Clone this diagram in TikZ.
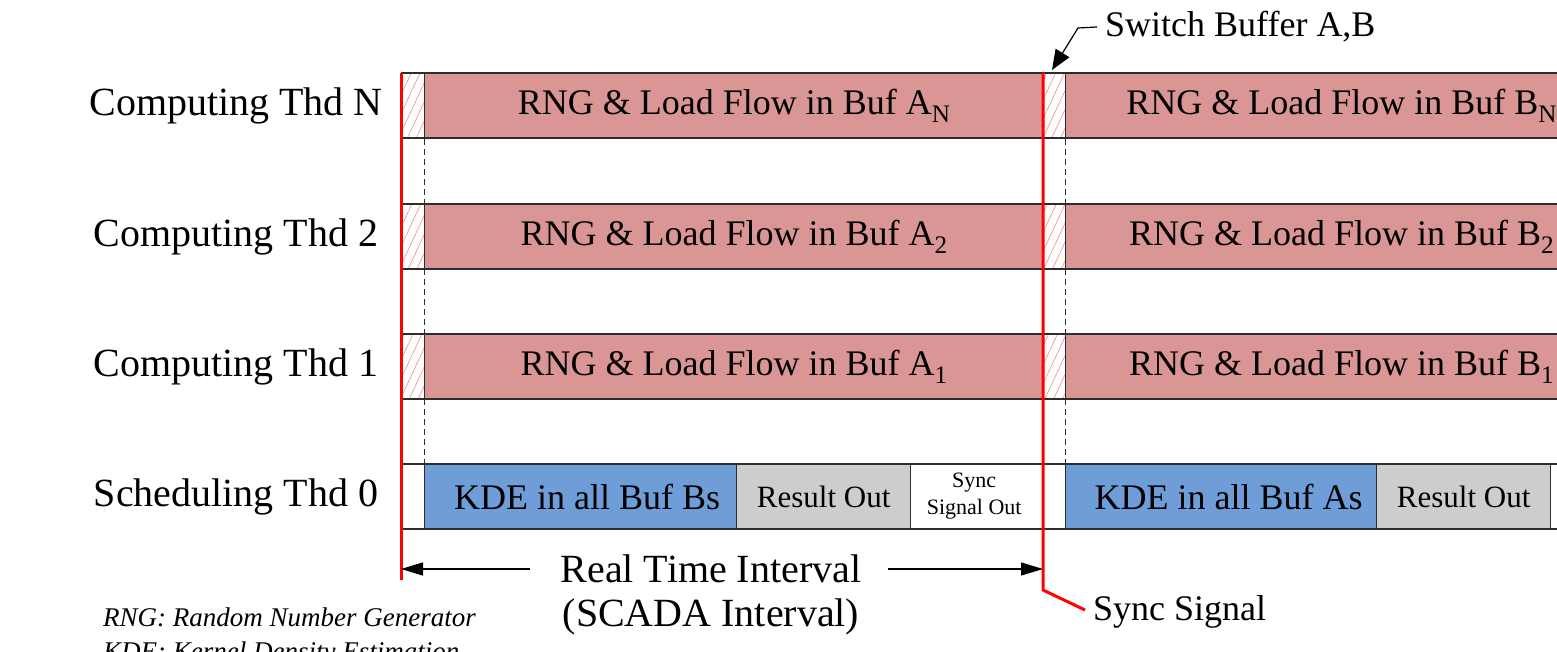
\documentclass[tikz,border=0pt]{standalone}
\usepackage{fontspec}
\setmainfont{Liberation Serif}
\usetikzlibrary{patterns.meta,arrows.meta}
\definecolor{rngfill}{RGB}{217,150,148}
\definecolor{kdefill}{RGB}{110,157,216}
\definecolor{outfill}{RGB}{205,205,205}
\definecolor{hatchred}{RGB}{238,150,150}
\definecolor{edge}{RGB}{45,45,45}
\begin{document}
\begin{tikzpicture}[x=1pt,y=-1pt,
  lane/.style={font=\fontsize{40}{44}\selectfont, inner sep=0pt},
  cell/.style={draw=edge, line width=1.3pt, minimum height=65pt, inner sep=0pt,
    anchor=west, font=\fontsize{36}{40}\selectfont},
  rng/.style={cell, fill=rngfill},
  kde/.style={cell, fill=kdefill},
  outbox/.style={cell, fill=outfill, font=\fontsize{31}{34}\selectfont},
  blank/.style={cell, fill=white},
  hatch/.style={cell, pattern={Lines[angle=65,distance=8pt,line width=0.7pt]},
    pattern color=hatchred},
  guide/.style={draw=edge, line width=0.8pt, dash pattern=on 6pt off 4pt},
  syncline/.style={draw=red, line width=3pt},
  dim/.style={draw=black, line width=1.2pt, -{Triangle[length=22pt,width=13pt]}},
  callout/.style={draw=black, line width=1.2pt, -{Triangle[length=20pt,width=16pt]}},
  label/.style={font=\fontsize{36}{40}\selectfont, inner sep=0pt},
  note/.style={font=\fontsize{27}{32}\selectfont\itshape, inner sep=0pt, anchor=base west}
]
\useasboundingbox (0,0) rectangle (1557,652);
\clip (0,0) rectangle (1557,652);

% thread labels
\node[lane] (lN) at (236,105.5) {Computing Thd N};
\node[lane] (l2) at (236,236.5) {Computing Thd 2};
\node[lane] (l1) at (236,366.5) {Computing Thd 1};
\node[lane] (l0) at (236,496.5) {Scheduling Thd 0};

% computing thread N
\node[hatch, minimum width=23pt] (hN1) at (401,105.5) {};
\node[rng, minimum width=619pt] (aN) at (424,105.5) {RNG \& Load Flow in Buf A\textsubscript{N}};
\node[hatch, minimum width=22pt] (hN2) at (1043,105.5) {};
\node[rng, minimum width=552pt] (bN) at (1065,105.5) {RNG \& Load Flow in Buf B\textsubscript{N}};

% computing thread 2
\node[hatch, minimum width=23pt] (h21) at (401,236.5) {};
\node[rng, minimum width=619pt] (a2) at (424,236.5) {RNG \& Load Flow in Buf A\textsubscript{2}};
\node[hatch, minimum width=22pt] (h22) at (1043,236.5) {};
\node[rng, minimum width=552pt] (b2) at (1065,236.5) {RNG \& Load Flow in Buf B\textsubscript{2}};

% computing thread 1
\node[hatch, minimum width=23pt] (h11) at (401,366.5) {};
\node[rng, minimum width=619pt] (a1) at (424,366.5) {RNG \& Load Flow in Buf A\textsubscript{1}};
\node[hatch, minimum width=22pt] (h12) at (1043,366.5) {};
\node[rng, minimum width=552pt] (b1) at (1065,366.5) {RNG \& Load Flow in Buf B\textsubscript{1}};

% scheduling thread 0
\node[blank, minimum width=23pt] (s0) at (401,496.5) {};
\node[kde, minimum width=312pt] (kA) at (424,496.5) {\hspace{13pt}KDE in all Buf Bs};
\node[outbox, minimum width=174pt] (oA) at (736,496.5) {Result Out};
\node[blank, minimum width=133pt, font=\fontsize{22}{27}\selectfont, align=center] (sy) at (910,496.5) {\hspace*{-6pt}Sync\\\hspace*{-6pt}Signal Out};
\node[blank, minimum width=22pt] (s1) at (1043,496.5) {};
\node[kde, minimum width=311pt] (kB) at (1065,496.5) {\hspace{15pt}KDE in all Buf As};
\node[outbox, minimum width=174pt] (oB) at (1376,496.5) {Result Out};
\node[blank, minimum width=60pt] (s2) at (1550,496.5) {};

% idle gaps between the rows
\draw[guide] (aN.south west) -- (kA.north west);
\draw[guide] (bN.south west) -- (kB.north west);

% sync signals
\coordinate (r1end) at (401,580);
\coordinate (r2knee) at (1043,590);
\coordinate (r2end) at (1085,610);
\draw[syncline] (hN1.north west) -- (r1end);
\draw[syncline] (hN2.north west) -- (r2knee) -- (r2end);
\node[label, anchor=west] (sig) at (1093,612) {Sync Signal};

% switch buffer callout
\node[label, anchor=west] (sw) at (1105,27) {Switch Buffer A,B};
\coordinate (swbend) at (1078,28);
\coordinate (swtip) at (1052,70);
\draw[callout] ([xshift=-8pt]sw.west) -- (swbend) -- (swtip);

% real time interval
\node[font=\fontsize{40}{44}\selectfont, inner sep=0pt] (rt) at (711,569) {Real Time Interval};
\node[font=\fontsize{40}{44}\selectfont, inner sep=0pt] (sc) at (711,617) {(SCADA Interval)};
\coordinate (rtl) at (401,569);
\coordinate (rtr) at (1043,569);
\draw[dim] ([xshift=-30pt]rt.west) -- (rtl);
\draw[dim] ([xshift=26pt]rt.east) -- (rtr);

% abbreviations
\node[note] (n1) at (103,626) {RNG: Random Number Generator};
\node[note] (n2) at (103,660) {KDE: Kernel Density Estimation};
\end{tikzpicture}
\end{document}
